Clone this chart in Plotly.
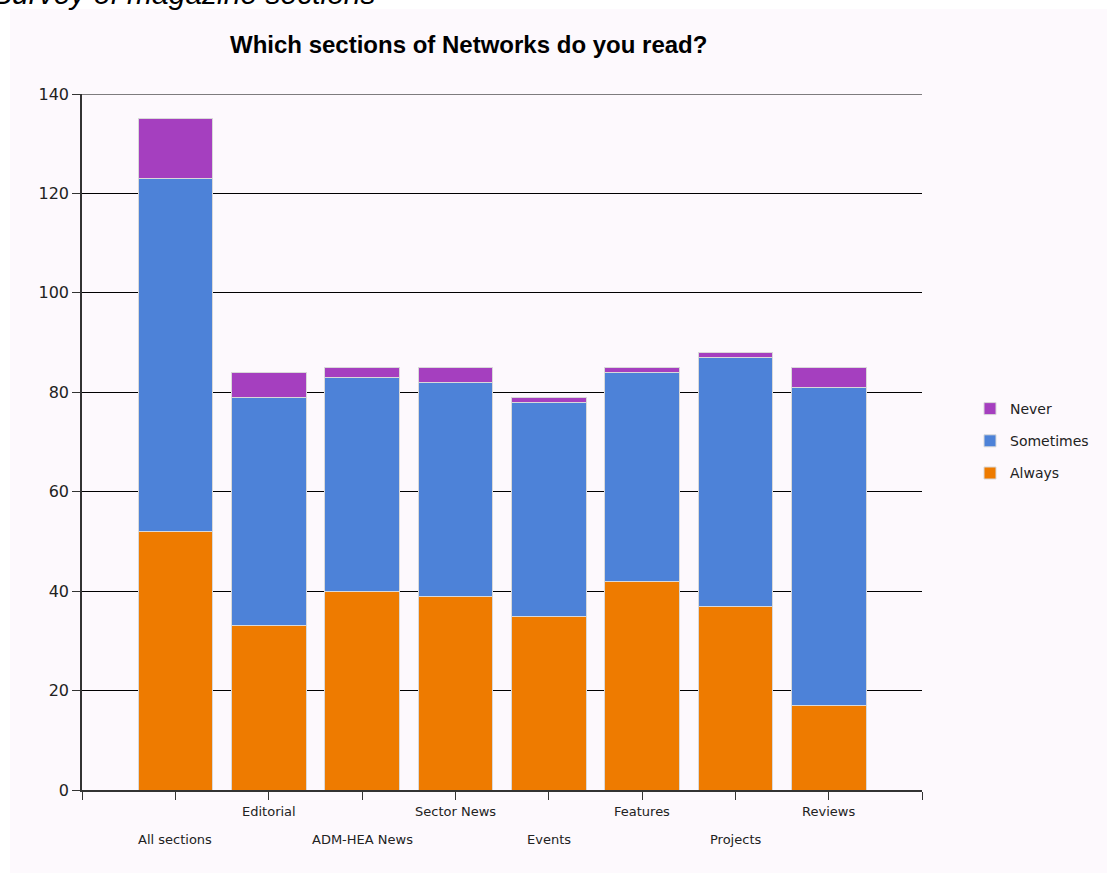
import plotly.graph_objects as go

categories = ["All sections", "Editorial", "ADM-HEA News", "Sector News",
              "Events", "Features", "Projects", "Reviews"]
always = [52, 33, 40, 39, 35, 42, 37, 17]
sometimes = [71, 46, 43, 43, 43, 42, 50, 64]
never = [12, 5, 2, 3, 1, 1, 1, 4]
y_ticks = [0, 20, 40, 60, 80, 100, 120, 140]

W, H = 1107, 873
# plot area in page pixels: x 82..922, y 94..790
L, R, T, B = 82, W - 922, 94, H - 790
PH = H - T - B
PW = W - L - R

xpos = list(range(1, len(categories) + 1))


def py(pix):  # page pixel y -> paper
    return (H - B - pix) / PH


def px(pix):  # page pixel x -> paper
    return (pix - L) / PW


fig = go.Figure()
line = dict(color="#d9d9d9", width=1)
fig.add_trace(go.Bar(x=xpos, y=always, name="Always", legendgroup="a", legendrank=3,
                     marker=dict(color="#EE7B00", line=line), width=0.8))
fig.add_trace(go.Bar(x=xpos, y=sometimes, name="Sometimes", legendgroup="b", legendrank=2,
                     marker=dict(color="#4D82D8", line=line), width=0.8))
fig.add_trace(go.Bar(x=xpos, y=never, name="Never", legendgroup="c", legendrank=1,
                     marker=dict(color="#A53FBF", line=line), width=0.8))

annotations = []
for i, c in enumerate(categories):
    row_y = 839 if i % 2 == 0 else 811
    annotations.append(dict(x=xpos[i], xref="x", y=py(row_y), yref="paper", text=c,
                            showarrow=False, xanchor="center", yanchor="middle",
                            font=dict(family="DejaVu Sans", size=13, color="#222222")))
annotations.append(dict(x=px(468), xref="paper", y=py(45), yref="paper",
                        text="<b>Which sections of Networks do you read?</b>", showarrow=False,
                        xanchor="center", yanchor="middle",
                        font=dict(family="Liberation Sans", size=24, color="#000000")))
annotations.append(dict(x=px(-10), xref="paper", y=py(-6), yref="paper",
                        text="<i>Survey of magazine sections</i>", showarrow=False,
                        xanchor="left", yanchor="middle",
                        font=dict(family="Liberation Sans", size=30, color="#000000")))

shapes = [
    dict(type="rect", xref="paper", yref="paper", x0=px(10), x1=px(1120),
         y0=py(890), y1=py(9), fillcolor="#FDF9FD", line=dict(width=0), layer="below"),
    dict(type="line", xref="paper", yref="y", x0=0, x1=1, y0=140, y1=140,
         line=dict(color="#000000", width=1.2), layer="below"),
]

fig.update_layout(
    width=W, height=H,
    margin=dict(l=L, r=R, t=T, b=B),
    barmode="stack",
    paper_bgcolor="#FFFFFF",
    plot_bgcolor="rgba(0,0,0,0)",
    showlegend=True,
    legend=dict(x=px(970), y=py(393), xanchor="left", yanchor="top",
                traceorder="grouped", tracegroupgap=11,
                font=dict(family="DejaVu Sans", size=14, color="#222222"),
                bgcolor="rgba(0,0,0,0)"),
    xaxis=dict(range=[0, 9], tickvals=list(range(0, 10)), ticktext=[""] * 10,
               ticks="outside", ticklen=8, tickcolor="#333333", showgrid=False,
               showline=True, linecolor="#333333", linewidth=1.5, zeroline=False),
    yaxis=dict(range=[0, 140], tickvals=y_ticks, ticks="outside", ticklen=8,
               tickcolor="#333333", showgrid=True, gridcolor="#000000", gridwidth=1.2,
               showline=True, linecolor="#333333", linewidth=1.5, zeroline=False,
               tickfont=dict(family="DejaVu Sans", size=16, color="#222222")),
    annotations=annotations,
    shapes=shapes,
)

fig.write_html("out.html", config={"displayModeBar": False},
               post_script="document.body.style.margin='0px';document.body.style.overflow='hidden';")
